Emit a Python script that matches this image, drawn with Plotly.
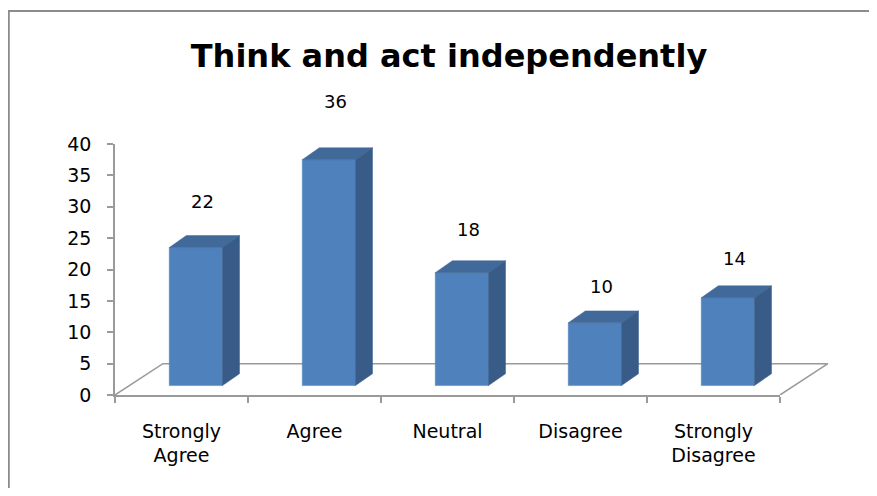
import plotly.graph_objects as go

# ---- data ----
categories = ["Strongly Agree", "Agree", "Neutral", "Disagree", "Strongly Disagree"]
tick_labels = ["Strongly<br>Agree", "Agree", "Neutral", "Disagree", "Strongly<br>Disagree"]
values = [22, 36, 18, 10, 14]
y_ticks = [0, 5, 10, 15, 20, 25, 30, 35, 40]
title_text = "Think and act independently"

# ---- layout constants (page pixels; page has an 8px body margin) ----
OFF = 8
W, H = 877 - 2 * OFF, 496 - 2 * OFF
PLOT_L, PLOT_R, PLOT_T, PLOT_B = 115, 835, 144, 395      # page px
ML, MT = PLOT_L - OFF, PLOT_T - OFF
MR, MB = W - (PLOT_R - OFF), H - (PLOT_B - OFF)
PW, PH = PLOT_R - PLOT_L, PLOT_B - PLOT_T
CAT_PX = 133.0
x_max = -0.5 + PW / CAT_PX
Y_MAX = 40

FLOOR_DX, FLOOR_DY = 0.36, 5.0      # floor depth (x units, y units)
BAR_Z = 0.30                         # bar position within floor depth
BAR_HALF = 0.2
BAR_DX, BAR_DY = 0.128, 1.9          # bar 3D depth
LABEL_A, LABEL_K = 5.9, 1.135        # label placement (perspective)

FRONT, TOP, SIDE = "#4F81BD", "#41699A", "#385C87"
AXIS = "#9A9A9A"
FONT = "DejaVu Sans"

fig = go.Figure()

# floor outline
fig.add_trace(go.Scatter(
    x=[-0.5, -0.5 + FLOOR_DX, 4.5 + FLOOR_DX, 4.5],
    y=[0, FLOOR_DY, FLOOR_DY, 0],
    mode="lines", line=dict(color=AXIS, width=1.5),
    hoverinfo="skip", showlegend=False, xaxis="x", yaxis="y"))

# 3D bars
for i, v in enumerate(values):
    cx = i + BAR_Z * FLOOR_DX
    y0 = BAR_Z * FLOOR_DY
    y1 = y0 + v
    xl, xr = cx - BAR_HALF, cx + BAR_HALF
    faces = [
        ([xl, xr, xr, xl, xl], [y0, y0, y1, y1, y0], FRONT),
        ([xl, xr, xr + BAR_DX, xl + BAR_DX, xl], [y1, y1, y1 + BAR_DY, y1 + BAR_DY, y1], TOP),
        ([xr, xr + BAR_DX, xr + BAR_DX, xr, xr], [y0, y0 + BAR_DY, y1 + BAR_DY, y1, y0], SIDE),
    ]
    for fx, fy, col in faces:
        fig.add_trace(go.Scatter(
            x=fx, y=fy, fill="toself", fillcolor=col, mode="lines",
            line=dict(color=col, width=0.5), hoverinfo="skip",
            showlegend=False, xaxis="x", yaxis="y"))

# category axis carrier
fig.add_trace(go.Scatter(
    x=categories, y=[None] * len(categories), mode="markers",
    marker=dict(opacity=0), hoverinfo="skip", showlegend=False,
    xaxis="x2", yaxis="y"))

# data labels (y given as fraction of the 0..Y_MAX axis so they may sit above it)
annotations = []
for i, v in enumerate(values):
    annotations.append(dict(
        x=i + BAR_Z * FLOOR_DX + BAR_DX * 0.4, xref="x",
        y=(LABEL_A + LABEL_K * v) / Y_MAX, yref="paper",
        text=str(v), showarrow=False, xanchor="center", yanchor="middle",
        font=dict(family=FONT, size=18, color="#000000")))


def px_x(px):
    return (px - PLOT_L) / PW


def px_y(py):
    return (PLOT_B - py) / PH


fig.update_layout(
    width=W, height=H,
    margin=dict(l=ML, r=MR, t=MT, b=MB, pad=0),
    paper_bgcolor="white", plot_bgcolor="rgba(0,0,0,0)",
    title=dict(text=f"<b>{title_text}</b>", x=(449 - OFF) / W, xref="container",
               xanchor="center", y=1 - (55.5 - OFF) / H, yref="container",
               yanchor="middle", font=dict(family=FONT, size=32, color="#000000")),
    xaxis=dict(range=[-0.5, x_max], visible=False, fixedrange=True),
    xaxis2=dict(type="category", categoryorder="array", categoryarray=categories,
                domain=[0, 5 * CAT_PX / PW], anchor="y", range=[-0.5, 4.5],
                tickmode="array", tickvals=categories, ticktext=tick_labels,
                tickson="boundaries", ticks="outside", ticklen=6, tickwidth=1.5,
                tickcolor=AXIS, showline=True, linecolor=AXIS, linewidth=1.5,
                showgrid=False, zeroline=False, ticklabelstandoff=18,
                tickfont=dict(family=FONT, size=19, color="#000000"), fixedrange=True),
    yaxis=dict(range=[0, Y_MAX], tickmode="array", tickvals=y_ticks,
               ticks="outside", ticklen=6, tickwidth=1.5, tickcolor=AXIS,
               showline=True, linecolor=AXIS, linewidth=1.5, showgrid=False,
               zeroline=False, ticklabelstandoff=12,
               tickfont=dict(family=FONT, size=19, color="#000000"), fixedrange=True),
    annotations=annotations,
    shapes=[
        dict(type="line", xref="paper", yref="paper", x0=px_x(OFF), x1=px_x(900),
             y0=px_y(11), y1=px_y(11), line=dict(color="#8C8C8C", width=2)),
        dict(type="line", xref="paper", yref="paper", x0=px_x(OFF + 0.8), x1=px_x(OFF + 0.8),
             y0=px_y(11), y1=px_y(600), line=dict(color="#8C8C8C", width=2)),
    ],
    showlegend=False,
)

fig.write_html("out.html")
